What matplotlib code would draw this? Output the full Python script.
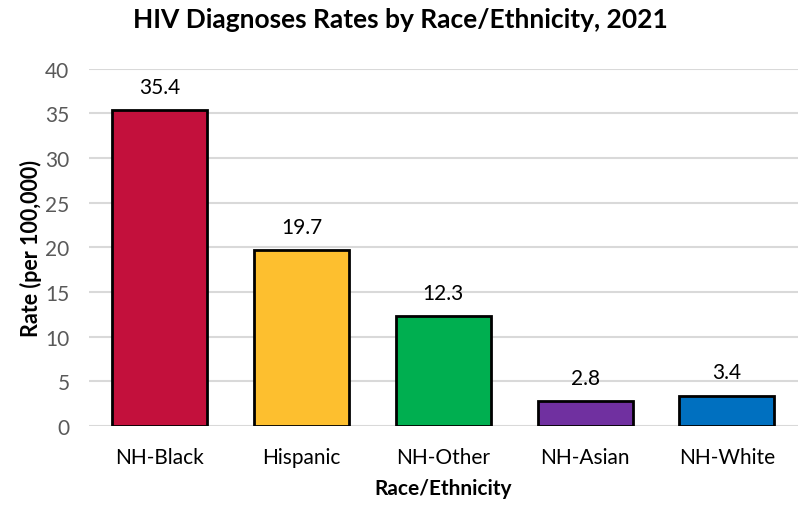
import matplotlib
matplotlib.use("Agg")
import matplotlib.pyplot as plt

categories = ["NH-Black", "Hispanic", "NH-Other", "NH-Asian", "NH-White"]
rates = [35.4, 19.7, 12.3, 2.8, 3.4]
bar_colors = ["#C3103C", "#FDBF2F", "#00AF50", "#7030A0", "#0070C0"]

plt.rcParams['font.family'] = ['Lato', 'DejaVu Sans']

fig = plt.figure(figsize=(8.01, 5.06), dpi=100)
ax = fig.add_axes([0.111, 0.156, 0.885, 0.706])

x = range(len(categories))
ax.bar(x, rates, width=0.67, color=bar_colors, edgecolor="black", linewidth=2, zorder=3)

for i, v in enumerate(rates):
    ax.text(i, v + 1.5, f"{v:.1f}", ha="center", va="bottom", fontsize=15, color="black")

ax.set_xlim(-0.5, len(categories) - 0.5)
ax.set_ylim(0, 40)
ax.set_yticks(range(0, 41, 5))
ax.set_xticks(list(x))
ax.set_xticklabels(categories)
ax.tick_params(axis="both", length=0, labelsize=15, labelcolor="#595959")
ax.tick_params(axis="x", pad=15, labelcolor="black")
ax.tick_params(axis="y", pad=14)
ax.yaxis.grid(True, color="#D9D9D9", linewidth=1.5, zorder=0)
for s in ax.spines.values():
    s.set_visible(False)

ax.set_xlabel("Race/Ethnicity", fontsize=15, fontweight="bold", labelpad=8)
ax.set_ylabel("Rate (per 100,000)", fontsize=15.5, fontweight="bold", labelpad=2)
fig.suptitle("HIV Diagnoses Rates by Race/Ethnicity, 2021", fontsize=19, fontweight="bold", y=0.985)

fig.savefig("out.png", dpi=100)
